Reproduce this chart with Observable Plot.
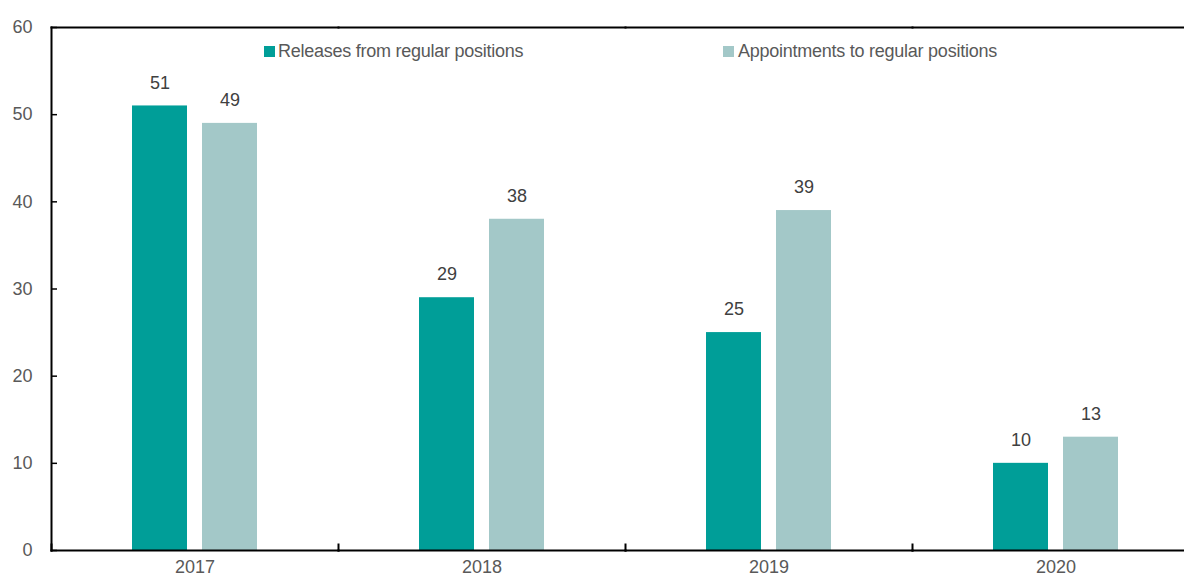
<!DOCTYPE html>
<html>
<head>
<meta charset="utf-8">
<script src="https://cdn.jsdelivr.net/npm/d3@7"></script>
<script src="https://cdn.jsdelivr.net/npm/@observablehq/plot@0.6"></script>
<style>
  html, body { margin: 0; padding: 0; background: #fff; overflow: hidden; }
  #wrap { position: relative; width: 1184px; height: 574px; overflow: hidden; font-family: "Liberation Sans", Arial, sans-serif; }
  #wrap svg { max-width: none !important; }
  .lg { position: absolute; top: 39px; font-size: 18px; letter-spacing: -0.25px; color: #595959; white-space: nowrap; line-height: 24px; }
  .sw { position: absolute; width: 11px; height: 11px; top: 46px; }
</style>
</head>
<body>
<div id="wrap"></div>
<script>
const years = ["2017", "2018", "2019", "2020"];
const seriesNames = ["Releases from regular positions", "Appointments to regular positions"];
const releases = [51, 29, 25, 10];
const appointments = [49, 38, 39, 13];
const colors = ["#009E98", "#A3C8C8"];
const yTicks = [0, 10, 20, 30, 40, 50, 60];

const data = years.flatMap((yr, i) => [
  {year: yr, series: seriesNames[0], value: releases[i]},
  {year: yr, series: seriesNames[1], value: appointments[i]}
]);

const chart = Plot.plot({
  width: 1199,
  height: 574,
  marginLeft: 51,
  marginRight: 0,
  marginTop: 27,
  marginBottom: 24,
  style: {fontFamily: "'Liberation Sans', Arial, sans-serif", fontSize: "18px", color: "#595959", background: "white", maxWidth: "none"},
  fx: {domain: years, padding: 0, label: null},
  x: {domain: seriesNames, paddingInner: 0.214, paddingOuter: 1.157, axis: null},
  y: {domain: [0, 60], axis: null},
  color: {domain: seriesNames, range: colors},
  marks: [
    Plot.barY(data, {fx: "year", x: "series", y: "value", fill: "series"}),
    Plot.text(data, {fx: "year", x: "series", y: "value", text: d => String(d.value), dy: -23, fill: "#404040", fontSize: 18}),
    Plot.frame({anchor: "top", stroke: "black", strokeWidth: 2}),
    Plot.frame({anchor: "bottom", stroke: "black", strokeWidth: 2}),
    Plot.frame({anchor: "left", stroke: "black", strokeWidth: 2, insetTop: 517}),
    Plot.frame({anchor: "left", stroke: "black", strokeWidth: 2, facetAnchor: "left"}),
    Plot.tickY(yTicks, {y: d => d, stroke: "black", strokeWidth: 1.5, insetRight: 281, facetAnchor: "left"}),
    Plot.axisY({ticks: yTicks, tickSize: 0, tickPadding: 19, tickFormat: d => String(d), label: null, fill: "#595959", fontSize: 18}),
    Plot.axisFx({anchor: "bottom", tickSize: 0, tickPadding: 10, label: null, fill: "#595959", fontSize: 18})
  ]
});
chart.style.maxWidth = "none";

const wrap = document.getElementById("wrap");
wrap.appendChild(chart);

const legendItems = [
  {name: seriesNames[0], color: colors[0], sx: 264, tx: 278},
  {name: seriesNames[1], color: colors[1], sx: 723, tx: 738}
];
for (const it of legendItems) {
  const sw = document.createElement("div");
  sw.className = "sw";
  sw.style.left = it.sx + "px";
  sw.style.background = it.color;
  wrap.appendChild(sw);
  const t = document.createElement("div");
  t.className = "lg";
  t.style.left = it.tx + "px";
  t.textContent = it.name;
  wrap.appendChild(t);
}
</script>
</body>
</html>
